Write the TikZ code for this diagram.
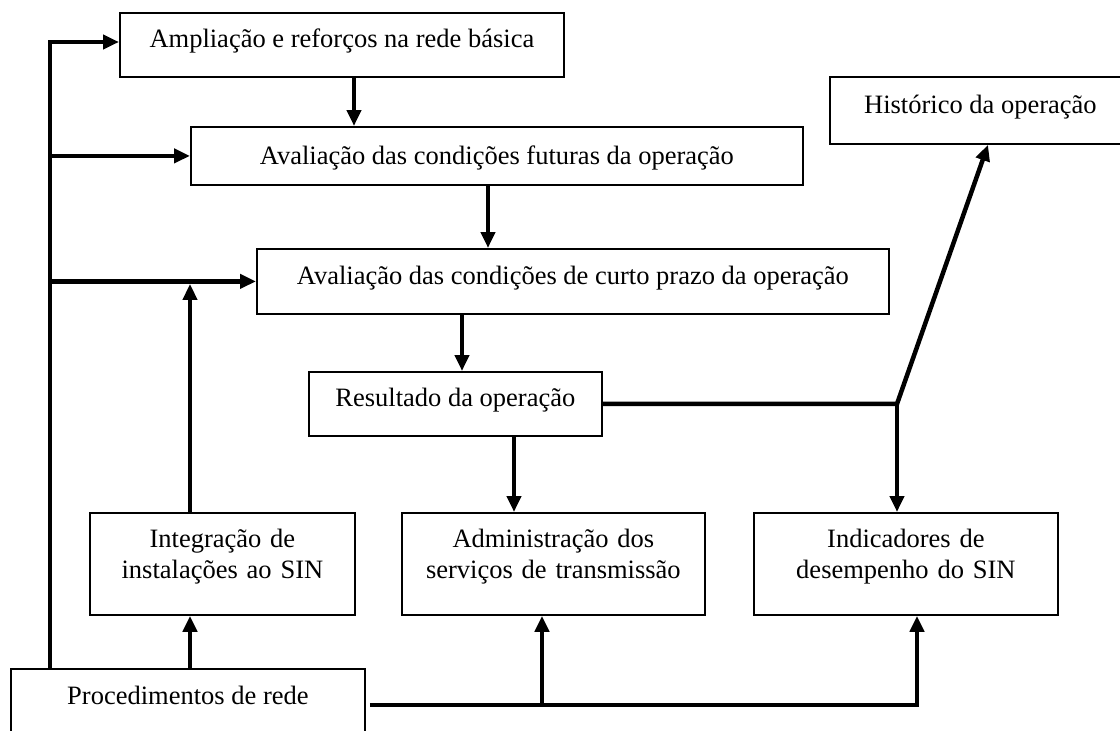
\documentclass[tikz,border=0pt]{standalone}
\usepackage{fontspec}
\setmainfont{Liberation Serif}
\usetikzlibrary{arrows.meta}
\begin{document}
\begin{tikzpicture}[x=1pt,y=-1pt,
  box/.style={draw=black, line width=1.8pt, inner xsep=4pt, inner ysep=0pt, anchor=north west,
    font=\fontsize{26.5}{31}\selectfont},
  twoline/.style={box, align=center, text height=35pt, text depth=67pt},
  conn/.style={line width=4.5pt, draw=black},
  arr/.style={conn, -{Triangle[length=16pt,width=14pt]}},
]
\useasboundingbox (0,0) rectangle (1120,731);

% boxes
\node[box, minimum width=444pt, text height=35pt, text depth=29pt] (b1) at (119,12) {Ampliação e reforços na rede básica};
\node[box, minimum width=612pt, text height=38pt, text depth=20pt] (b2) at (190,126) {Avaliação das condições futuras da operação};
\node[box, minimum width=301pt, text height=37pt, text depth=30pt] (hist) at (829,76) {Histórico da operação};
\node[box, minimum width=632pt, text height=36pt, text depth=29pt] (b4) at (256,248) {Avaliação das condições de curto prazo da operação};
\node[box, minimum width=293pt, text height=35pt, text depth=29pt] (res) at (308,371) {Resultado da operação};
\node[twoline, text width=257pt] (integ) at (89,512) {Integração de\\instalações ao SIN};
\node[twoline, text width=295pt] (adm) at (401,512) {Administração dos\\serviços de transmissão};
\node[twoline, text width=296pt] (ind) at (753,512) {Indicadores de\\desempenho do SIN};
\node[box, minimum width=354pt, text height=36pt, text depth=29pt] (proc) at (10,668) {Procedimentos de rede};

% helper coordinates
\coordinate (xL) at (50,0);
\coordinate (x1) at (354,0);
\coordinate (x2) at (488,0);
\coordinate (x3) at (462,0);
\coordinate (x4) at (514,0);
\coordinate (xI) at (190,0);
\coordinate (xB) at (897,0);
\coordinate (xH) at (988,0);
\coordinate (xA) at (542,0);
\coordinate (xN) at (917,0);
\coordinate (yT) at (0,42);
\coordinate (yP) at (0,705);

% left bus
\draw[arr] (proc.north -| xL) -- (xL |- yT) -- (b1.west |- yT);
\draw[arr] (xL |- b2.west) -- (b2.west);
\draw[arr] (xL |- b4.west) -- (b4.west);

% main chain
\draw[arr] (b1.south -| x1) -- (b2.north -| x1);
\draw[arr] (b2.south -| x2) -- (b4.north -| x2);
\draw[arr] (b4.south -| x3) -- (res.north -| x3);
\draw[arr] (res.south -| x4) -- (adm.north -| x4);

% result branch
\coordinate (br) at (res.east -| xB);
\draw[arr] (res.east) -- (br) -- (hist.south -| xH);
\draw[arr] (br) -- (ind.north -| br);

% integration
\draw[arr, shorten >=2.5pt] (integ.north -| xI) -- (b4.west -| xI);
\draw[arr] (proc.north -| xI) -- (integ.south -| xI);

% procedures bus
\draw[arr, shorten <=4pt] (proc.east |- yP) -- (xN |- yP) -- (ind.south -| xN);
\draw[arr] (xA |- yP) -- (adm.south -| xA);
\end{tikzpicture}
\end{document}
